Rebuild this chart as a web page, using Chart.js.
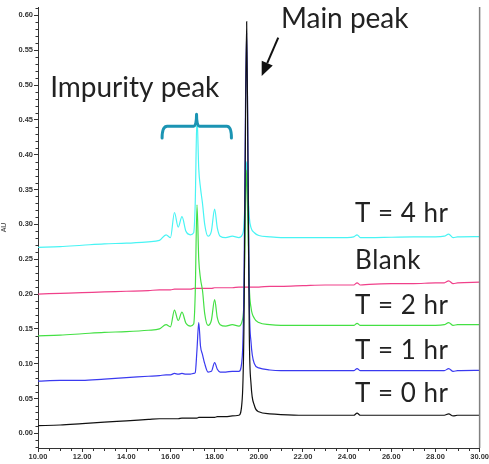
<!DOCTYPE html>
<html>
<head>
<meta charset="utf-8">
<script src="https://cdn.jsdelivr.net/npm/chart.js@4.4.1/dist/chart.umd.min.js"></script>
<style>
html,body{margin:0;padding:0;background:#fff;}
#wrap{width:489px;height:464px;position:relative;}
</style>
</head>
<body>
<div id="wrap"><canvas id="c" width="489" height="464"></canvas></div>
<script>
// Retention time (min)
const TIME = [10, 11, 12, 13, 14, 15, 15.5, 15.8, 16.0, 16.18, 16.35, 16.52, 16.7, 16.9, 17.05, 17.12, 17.2, 17.28, 17.36, 17.45, 17.55, 17.7, 17.85, 18.0, 18.12, 18.25, 18.5, 18.8, 19.1, 19.25, 19.33, 19.40, 19.45, 19.50, 19.57, 19.65, 19.8, 20.0, 20.5, 21, 22, 23, 24, 24.3, 24.45, 24.6, 25, 26, 27, 28, 28.4, 28.6, 28.8, 29, 30];

const T0 = [0.011, 0.012, 0.014, 0.016, 0.018, 0.020, 0.021, 0.021, 0.021, 0.021, 0.021, 0.022, 0.022, 0.022, 0.022, 0.022, 0.022, 0.023, 0.023, 0.023, 0.023, 0.023, 0.023, 0.023, 0.024, 0.024, 0.024, 0.025, 0.026, 0.050, 0.160, 0.450, 0.591, 0.420, 0.140, 0.070, 0.040, 0.031, 0.028, 0.027, 0.026, 0.026, 0.026, 0.026, 0.029, 0.026, 0.026, 0.026, 0.026, 0.026, 0.026, 0.028, 0.025, 0.026, 0.026];

const T1 = [0.075, 0.076, 0.076, 0.078, 0.080, 0.082, 0.083, 0.084, 0.084, 0.086, 0.085, 0.086, 0.085, 0.085, 0.086, 0.087, 0.120, 0.159, 0.125, 0.113, 0.100, 0.088, 0.089, 0.1015, 0.092, 0.088, 0.088, 0.089, 0.089, 0.110, 0.220, 0.480, 0.575, 0.440, 0.190, 0.130, 0.100, 0.094, 0.091, 0.090, 0.090, 0.090, 0.090, 0.090, 0.093, 0.090, 0.090, 0.090, 0.090, 0.090, 0.090, 0.093, 0.089, 0.090, 0.0905];

const T2 = [0.140, 0.141, 0.143, 0.145, 0.146, 0.148, 0.150, 0.156, 0.153, 0.177, 0.162, 0.174, 0.158, 0.154, 0.157, 0.200, 0.328, 0.250, 0.222, 0.205, 0.172, 0.155, 0.162, 0.192, 0.166, 0.156, 0.154, 0.156, 0.154, 0.162, 0.190, 0.330, 0.378, 0.310, 0.210, 0.180, 0.165, 0.159, 0.156, 0.155, 0.155, 0.155, 0.155, 0.155, 0.158, 0.155, 0.155, 0.155, 0.155, 0.155, 0.156, 0.159, 0.155, 0.156, 0.156];

const BLANK = [0.200, 0.201, 0.202, 0.203, 0.204, 0.205, 0.206, 0.206, 0.206, 0.207, 0.207, 0.207, 0.207, 0.207, 0.208, 0.208, 0.208, 0.208, 0.208, 0.208, 0.208, 0.208, 0.208, 0.209, 0.209, 0.209, 0.209, 0.209, 0.210, 0.210, 0.210, 0.210, 0.210, 0.210, 0.210, 0.210, 0.210, 0.210, 0.211, 0.211, 0.212, 0.213, 0.213, 0.213, 0.216, 0.213, 0.214, 0.215, 0.215, 0.216, 0.216, 0.219, 0.215, 0.216, 0.217];

const T4 = [0.267, 0.268, 0.270, 0.272, 0.273, 0.275, 0.277, 0.285, 0.281, 0.317, 0.296, 0.311, 0.290, 0.285, 0.288, 0.330, 0.455, 0.380, 0.352, 0.330, 0.300, 0.283, 0.290, 0.322, 0.295, 0.283, 0.281, 0.283, 0.281, 0.285, 0.300, 0.360, 0.390, 0.355, 0.310, 0.295, 0.288, 0.284, 0.282, 0.281, 0.281, 0.281, 0.281, 0.282, 0.285, 0.281, 0.281, 0.2815, 0.282, 0.282, 0.283, 0.286, 0.281, 0.282, 0.2825];

const SERIES_NAMES = ['T = 0 hr', 'T = 1 hr', 'T = 2 hr', 'Blank', 'T = 4 hr'];
const SERIES_COLORS = ['#111111', '#3a3af0', '#44e044', '#f0408a', '#48f4f4'];
const Y_TICKS = [0.00, 0.05, 0.10, 0.15, 0.20, 0.25, 0.30, 0.35, 0.40, 0.45, 0.50, 0.55, 0.60];
const X_TICKS = [10, 12, 14, 16, 18, 20, 22, 24, 26, 28, 30];

// annotation texts (positions in data units)
const LABELS = [
  {text: 'T = 4 hr', x: 24.36, y: 0.303},
  {text: 'Blank',    x: 24.36, y: 0.236},
  {text: 'T = 2 hr', x: 24.36, y: 0.172},
  {text: 'T = 1 hr', x: 24.36, y: 0.107},
  {text: 'T = 0 hr', x: 24.36, y: 0.045}
];

const ALL = [T0, T1, T2, BLANK, T4];
const datasets = ALL.map((arr, k) => ({
  label: SERIES_NAMES[k],
  data: TIME.map((t, i) => ({x: t, y: arr[i]})),
  borderColor: SERIES_COLORS[k],
  borderWidth: 1.2,
  pointRadius: 0,
  fill: false,
  cubicInterpolationMode: 'monotone'
}));

const decor = {
  id: 'decor',
  afterDraw(chart) {
    const ctx = chart.ctx, xs = chart.scales.x, ys = chart.scales.y, a = chart.chartArea;
    ctx.save();
    // right border
    ctx.strokeStyle = '#808080'; ctx.lineWidth = 1.5;
    ctx.beginPath(); ctx.moveTo(a.right, a.top); ctx.lineTo(a.right, a.bottom); ctx.stroke();
    // minor ticks
    ctx.strokeStyle = '#333'; ctx.lineWidth = 1;
    for (let i = -2; i <= 61; i++) {
      if (i % 5 === 0) continue;
      const py = Math.round(ys.getPixelForValue(i / 100)) + 0.5;
      ctx.beginPath(); ctx.moveTo(a.left - 2.5, py); ctx.lineTo(a.left, py); ctx.stroke();
    }
    for (let i = 20; i <= 60; i++) {
      if (i % 4 === 0) continue;
      const px = Math.round(xs.getPixelForValue(i / 2)) + 0.5;
      ctx.beginPath(); ctx.moveTo(px, a.bottom); ctx.lineTo(px, a.bottom + 3); ctx.stroke();
    }
    // bracket
    const X = v => xs.getPixelForValue(v), Y = v => ys.getPixelForValue(v);
    ctx.strokeStyle = '#1b94b3'; ctx.lineWidth = 3; ctx.lineJoin = 'round'; ctx.lineCap = 'round';
    ctx.beginPath();
    ctx.moveTo(X(15.62), Y(0.424));
    ctx.quadraticCurveTo(X(15.62), Y(0.441), X(15.85), Y(0.441));
    ctx.lineTo(X(17.05), Y(0.441));
    ctx.quadraticCurveTo(X(17.18), Y(0.441), X(17.18), Y(0.458));
    ctx.quadraticCurveTo(X(17.18), Y(0.441), X(17.31), Y(0.441));
    ctx.lineTo(X(18.55), Y(0.441));
    ctx.quadraticCurveTo(X(18.76), Y(0.441), X(18.76), Y(0.424));
    ctx.stroke();
    // arrow
    const x1 = X(20.88), y1 = Y(0.568), x2 = X(20.13), y2 = Y(0.513);
    const ang = Math.atan2(y2 - y1, x2 - x1);
    ctx.strokeStyle = '#111'; ctx.fillStyle = '#111'; ctx.lineWidth = 2; ctx.lineCap = 'butt';
    const hl = 14, hw = 6;
    const bx = x2 - hl * Math.cos(ang), by = y2 - hl * Math.sin(ang);
    ctx.beginPath(); ctx.moveTo(x1, y1); ctx.lineTo(bx, by); ctx.stroke();
    ctx.beginPath();
    ctx.moveTo(x2, y2);
    ctx.lineTo(bx + hw * Math.sin(ang), by - hw * Math.cos(ang));
    ctx.lineTo(bx - hw * Math.sin(ang), by + hw * Math.cos(ang));
    ctx.closePath(); ctx.fill();
    // texts
    ctx.fillStyle = '#222';
    ctx.textBaseline = 'alphabetic'; ctx.textAlign = 'left';
    ctx.font = '28px Lato, "Open Sans", sans-serif';
    ctx.fillText('Main peak', X(21.0), Y(0.582));
    ctx.fillText('Impurity peak', X(10.55), Y(0.483));
    ctx.font = '26px Lato, "Open Sans", sans-serif';
    ctx.letterSpacing = '0.5px';
    LABELS.forEach(l => ctx.fillText(l.text, X(l.x), Y(l.y)));
    ctx.restore();
  }
};

new Chart(document.getElementById('c'), {
  type: 'line',
  data: {datasets},
  options: {
    responsive: false,
    animation: false,
    events: [],
    layout: {padding: {left: 0, right: 8, top: 7, bottom: 0}},
    plugins: {legend: {display: false}, tooltip: {enabled: false}},
    scales: {
      x: {
        type: 'linear', min: 10, max: 30,
        afterBuildTicks: s => { s.ticks = X_TICKS.map(v => ({value: v})); },
        afterFit: s => { s.height = 16; },
        border: {display: true, color: '#333', width: 1},
        grid: {drawOnChartArea: false, drawTicks: true, tickLength: 4, tickColor: '#333'},
        ticks: {color: '#333', padding: 0, maxRotation: 0, font: {family: 'Liberation Sans, Arial', size: 7.5, weight: 'bold'},
                callback: v => Number(v).toFixed(2)}
      },
      y: {
        type: 'linear', min: -0.021, max: 0.612,
        afterBuildTicks: s => { s.ticks = Y_TICKS.map(v => ({value: v})); },
        afterFit: s => { s.width = 38; },
        border: {display: true, color: '#333', width: 1},
        grid: {drawOnChartArea: false, drawTicks: true, tickLength: 4, tickColor: '#333'},
        title: {display: true, text: 'AU', color: '#333', padding: 0, font: {family: 'Liberation Sans, Arial', size: 7}},
        ticks: {color: '#333', padding: 1, font: {family: 'Liberation Sans, Arial', size: 7.5, weight: 'bold'},
                callback: v => Number(v).toFixed(2)}
      }
    }
  },
  plugins: [decor]
});
</script>
</body>
</html>
